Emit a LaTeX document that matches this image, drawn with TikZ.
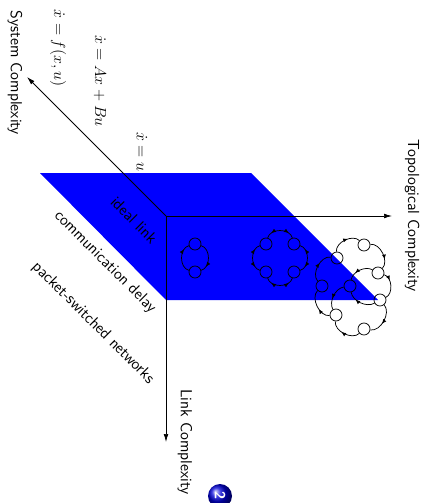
\documentclass[tikz,border=0pt]{standalone}
\usetikzlibrary{arrows.meta,decorations.markings,shadings}
\begin{document}
\begin{tikzpicture}[x=0.75pt,y=-0.75pt,
  lbl/.style={font=\sffamily\fontsize{12}{14}\selectfont, inner sep=0pt},
  eqn/.style={font=\fontsize{12.5}{14}\selectfont, inner sep=0pt},
  vtx/.style={circle,draw,line width=0.55pt,minimum size=9pt,inner sep=0pt},
  axisarrow/.style={line width=0.55pt,-{Latex[length=6pt,width=3.5pt]}},
  fwd/.style={line width=0.55pt,postaction={decorate},decoration={markings,mark=at position #1 with {\arrow{Latex[length=3.5pt,width=3pt]}}}},
  both/.style={line width=0.55pt,postaction={decorate},decoration={markings,
     mark=at position 0.2 with {\arrowreversed{Latex[length=3.5pt,width=3pt]}},
     mark=at position 0.8 with {\arrow{Latex[length=3.5pt,width=3pt]}}}},
  semi/.style={bend left=75,looseness=1.05},
  ring/.style={bend left=70,looseness=0.95},
]
\useasboundingbox (0,0) rectangle (429,503);
% plane
\fill[blue] (40,173) -- (251,173) -- (378,300) -- (166,300) -- cycle;
% axes
\coordinate (O) at (166,216);
\coordinate (S) at (27,77);
\coordinate (T) at (392,216);
\coordinate (L) at (166,442);
\draw[axisarrow] (O) -- (S);
\draw[axisarrow] (O) -- (T);
\draw[axisarrow] (O) -- (L);
% axis labels
\node[lbl,rotate=-90] (sys) at (15,73) {System Complexity};
\node[lbl,rotate=-90] (top) at (412,216) {Topological Complexity};
\node[lbl,rotate=-90] (lnk) at (185,442) {Link Complexity};
% equations
\node[eqn,rotate=-90] (e1) at (58,48) {$\dot{x}=f(x,u)$};
\node[eqn,rotate=-90] (e2) at (100,81) {$\dot{x}=Ax+Bu$};
\node[eqn,rotate=-90] (e3) at (142,152) {$\dot{x}=u$};
% link labels
\node[lbl,rotate=-45] (l1) at (134,220) {ideal link};
\node[lbl,rotate=-45] (l2) at (105,262) {communication delay};
\node[lbl,rotate=-45] (l3) at (93,323) {packet-switched networks};
% graph 1
\node[vtx] (p1) at (195,244) {};
\node[vtx] (p2) at (195,272) {};
\draw[fwd=0.8] (p2) to[semi] (p1);
\draw[fwd=0.8] (p1) to[semi] (p2);
% graph 2
\node[vtx] (q1) at (266,244) {};
\node[vtx] (q2) at (294,244) {};
\node[vtx] (q3) at (294,272) {};
\node[vtx] (q4) at (266,272) {};
\draw[both] (q1) to[semi] (q2);
\draw[both] (q2) to[semi] (q3);
\draw[both] (q3) to[semi] (q4);
\draw[both] (q4) to[semi] (q1);
% graph 3
\node[vtx] (ra) at (337,258) {};
\node[vtx] (rb) at (364,245) {};
\node[vtx] (rc) at (378,273) {};
\node[vtx] (rh) at (322,286) {};
\node[vtx] (rd) at (350,286) {};
\node[vtx] (re) at (380,300) {};
\node[vtx] (rg) at (336,315) {};
\node[vtx] (rf) at (364,329) {};
\draw[fwd=0.6] (ra) to[ring] (rb);
\draw[fwd=0.7] (rb) to[ring] (rc);
\draw[fwd=0.3] (rc) to[ring] (re);
\draw[fwd=0.6] (re) to[ring] (rf);
\draw[fwd=0.6] (rf) to[ring] (rg);
\draw[fwd=0.4] (rg) to[ring] (rh);
\draw[fwd=0.6] (rh) to[ring] (ra);
\draw[fwd=0.7] (rc) to[bend right=55,looseness=0.9] (rd);
\draw[fwd=0.7] (re) to[bend left=55,looseness=0.9] (rd);
\draw[fwd=0.6] (rd) to[bend right=55,looseness=0.9] (rg);
% badge
\node[circle,shading=ball,ball color=blue!85!black,minimum size=18pt,inner sep=0pt,
  text=white,font=\sffamily\bfseries\fontsize{11}{12}\selectfont,rotate=-90] (badge) at (220,496) {2};
\end{tikzpicture}
\end{document}
